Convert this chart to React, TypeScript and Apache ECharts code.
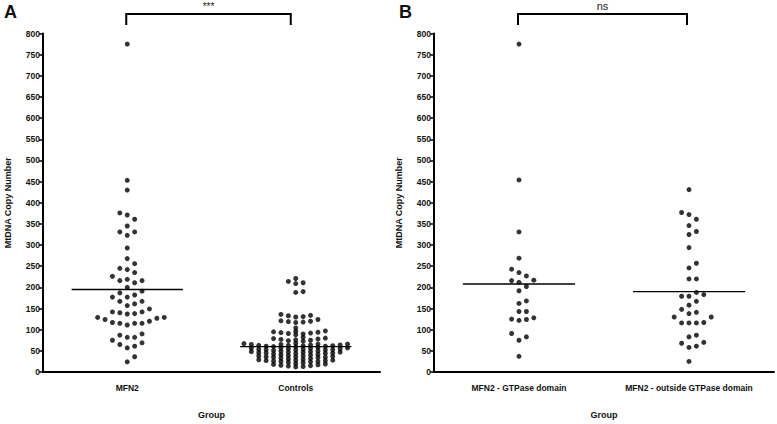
import React, { useEffect, useRef } from "react";
import * as echarts from "echarts";

// ---------- data ----------
const categoriesA = ["MFN2", "Controls"];
const categoriesB = ["MFN2 - GTPase domain", "MFN2 - outside GTPase domain"];
const yTicks = { min: 0, max: 800, interval: 50 };

const mfn2Values = [
  775, 453, 430, 376, 371, 361, 345, 331, 331, 323, 293, 268, 256, 245, 242, 235,
  226, 219, 216, 216, 211, 200, 191, 187, 182, 177, 177, 167, 167, 161, 157, 149,
  142, 140, 138, 137, 142, 129, 127, 120, 115, 115, 111, 115, 117, 124, 129, 90,
  82, 75, 82, 87, 69, 61, 57, 65, 36, 24,
];
const controlValues = [
  221, 214, 211, 209, 190, 188,
  136, 134, 133, 131, 130,
  124, 121, 120, 119, 118, 117, 104,
  97, 96, 95, 94, 93, 92, 91, 90, 88,
  82, 80, 79, 78, 77, 76, 75, 74, 73,
  68, 67, 66, 66, 65, 65, 64, 64, 63, 63, 62, 62, 61, 61, 60, 60,
  58, 57, 57, 56, 56, 55, 55, 54, 54, 53, 53, 52, 52, 51,
  50, 49, 48, 48, 47, 47, 46, 46, 45, 45, 44, 44, 43, 42,
  41, 40, 39, 38, 38, 37, 36, 36, 35, 35, 34, 33, 32, 31,
  30, 29, 28, 28, 27, 27, 26, 25, 25, 24, 23, 22,
  20, 19, 18, 17, 16, 15, 14, 13, 12,
];
const gtpaseValues = [
  775, 454, 331, 269, 243, 235, 227, 217, 216, 212, 202, 192, 168, 162, 143, 143,
  128, 125, 124, 122, 91, 83, 75, 37,
];
const outsideValues = [
  431, 377, 372, 361, 346, 332, 325, 294, 257, 246, 220, 220, 188, 183, 179, 179,
  167, 158, 148, 141, 138, 130, 130, 117, 116, 116, 116, 87, 83, 70, 68, 61, 58, 25,
];
const meansA = [195, 60];
const meansB = [208, 190];
const signifA = "***";
const signifB = "ns";

// ---------- layout ----------
const W = 777;
const H = 424;
const gridTop = 33.5;
const gridH = 339.5;
const gridA = { left: 43, width: 337 };
const gridB = { left: 434, width: 340 };
const FONT = "'Liberation Sans', Arial, sans-serif";

// beeswarm offsets (in category units) computed from values; shrinks vertical
// spacing until the swarm fits within the column width (like Prism)
function swarmOnce(values: number[], dy: number): number[] {
  const pxPerUnit = gridH / (yTicks.max - yTicks.min);
  const dx = 7.4;
  const order = values.map((_, i) => i).sort((a, b) => values[a] - values[b]);
  const placed: { x: number; y: number }[] = [];
  const out: number[] = new Array(values.length).fill(0);
  const cands: number[] = [0];
  for (let j = 1; j < 60; j++) cands.push(j * dx, -j * dx);
  for (const i of order) {
    const y = values[i] * pxPerUnit;
    let chosen = 0;
    for (const c of cands) {
      const ok = placed.every((p) => {
        if (Math.abs(p.x - c) >= dx * 0.99) return true;
        return Math.abs(p.y - y) >= dy;
      });
      if (ok) {
        chosen = c;
        break;
      }
    }
    placed.push({ x: chosen, y });
    out[i] = chosen;
  }
  return out;
}

function swarm(values: number[], bandPx: number): number[] {
  let dy = 8;
  let off = swarmOnce(values, dy);
  while (Math.max(...off.map(Math.abs)) > 56 && dy > 0.5) {
    dy *= 0.9;
    off = swarmOnce(values, dy);
  }
  return off.map((o) => o / bandPx);
}

function pts(values: number[], center: number, bandPx: number) {
  const off = swarm(values, bandPx);
  return values.map((v, i) => [center + off[i], v]);
}

export default function App() {
  const ref = useRef<HTMLDivElement>(null);
  useEffect(() => {
    if (!ref.current) return;
    const chart = echarts.init(ref.current, undefined, { renderer: "svg" });
    const bandA = gridA.width / 2;
    const bandB = gridB.width / 2;
    const halfLine = 0.33;

    const catAxis = (gi: number, data: string[]) => ({
      type: "category",
      gridIndex: gi,
      data,
      boundaryGap: true,
      name: "Group",
      nameLocation: "middle",
      nameGap: 38,
      nameTextStyle: { fontFamily: FONT, fontWeight: "bold", fontSize: 9, color: "#111" },
      axisLine: { onZero: false, lineStyle: { color: "#000", width: 2 } },
      axisTick: { alignWithLabel: true, length: 4, lineStyle: { color: "#000", width: 1.5 } },
      axisLabel: { fontFamily: FONT, fontWeight: "bold", fontSize: 8.5, color: "#111", margin: 11 },
      splitLine: { show: false },
    });
    const valX = (gi: number) => ({
      type: "value",
      gridIndex: gi,
      min: -0.5,
      max: 1.5,
      show: false,
      splitLine: { show: false },
    });
    const valY = (gi: number) => ({
      type: "value",
      gridIndex: gi,
      min: yTicks.min,
      max: yTicks.max,
      interval: yTicks.interval,
      name: "MtDNA Copy Number",
      nameLocation: "middle",
      nameGap: 31,
      nameTextStyle: { fontFamily: FONT, fontWeight: "bold", fontSize: 9, color: "#111" },
      axisLine: { show: true, onZero: false, lineStyle: { color: "#000", width: 2 } },
      axisTick: { show: true, length: 4, lineStyle: { color: "#000", width: 1.5 } },
      axisLabel: { fontFamily: FONT, fontWeight: "bold", fontSize: 8.5, color: "#111", margin: 3 },
      splitLine: { show: false },
    });

    const dots = (name: string, xi: number, yi: number, data: number[][]) => ({
      type: "scatter",
      name,
      xAxisIndex: xi,
      yAxisIndex: yi,
      data,
      symbol: "circle",
      symbolSize: 5,
      itemStyle: { color: "#000" },
      z: 3,
    });
    const meanLine = (xi: number, yi: number, c: number, m: number) => ({
      type: "line",
      xAxisIndex: xi,
      yAxisIndex: yi,
      data: [
        [c - halfLine, m],
        [c + halfLine, m],
      ],
      symbol: "none",
      lineStyle: { color: "#000", width: 1.3 },
      z: 4,
    });

    const bracket = (x0: number, x1: number, label: string, fs: number, ty: number) => [
      {
        type: "polyline",
        shape: { points: [[x0, 25], [x0, 14], [x1, 14], [x1, 25]] },
        style: { stroke: "#000", lineWidth: 2, fill: null },
      },
      {
        type: "text",
        x: (x0 + x1) / 2,
        y: ty,
        style: { text: label, fontFamily: FONT, fontSize: fs, fill: "#222", align: "center", verticalAlign: "middle" },
      },
    ];

    chart.setOption({
      animation: false,
      backgroundColor: "#fff",
      grid: [
        { left: gridA.left, top: gridTop, width: gridA.width, height: gridH },
        { left: gridB.left, top: gridTop, width: gridB.width, height: gridH },
      ],
      xAxis: [catAxis(0, categoriesA), valX(0), catAxis(1, categoriesB), valX(1)],
      yAxis: [valY(0), valY(1)],
      series: [
        dots(categoriesA[0], 1, 0, pts(mfn2Values, 0, bandA)),
        dots(categoriesA[1], 1, 0, pts(controlValues, 1, bandA)),
        meanLine(1, 0, 0, meansA[0]),
        meanLine(1, 0, 1, meansA[1]),
        dots(categoriesB[0], 3, 1, pts(gtpaseValues, 0, bandB)),
        dots(categoriesB[1], 3, 1, pts(outsideValues, 1, bandB)),
        meanLine(3, 1, 0, meansB[0]),
        meanLine(3, 1, 1, meansB[1]),
      ],
      graphic: [
        {
          type: "text",
          left: 4,
          top: 3,
          style: { text: "A", fontFamily: FONT, fontWeight: "bold", fontSize: 18, fill: "#111" },
        },
        {
          type: "text",
          left: 399,
          top: 3,
          style: { text: "B", fontFamily: FONT, fontWeight: "bold", fontSize: 18, fill: "#111" },
        },
        ...bracket(gridA.left + bandA * 0.5 - 1, gridA.left + bandA * 1.5 - 5, signifA, 10, 6),
        ...bracket(gridB.left + bandB * 0.5 - 1, gridB.left + bandB * 1.5 - 2, signifB, 11, 6),
      ],
    });
    return () => chart.dispose();
  }, []);
  return <div ref={ref} style={{ position: "fixed", left: 0, top: 0, width: W, height: H }} />;
}
